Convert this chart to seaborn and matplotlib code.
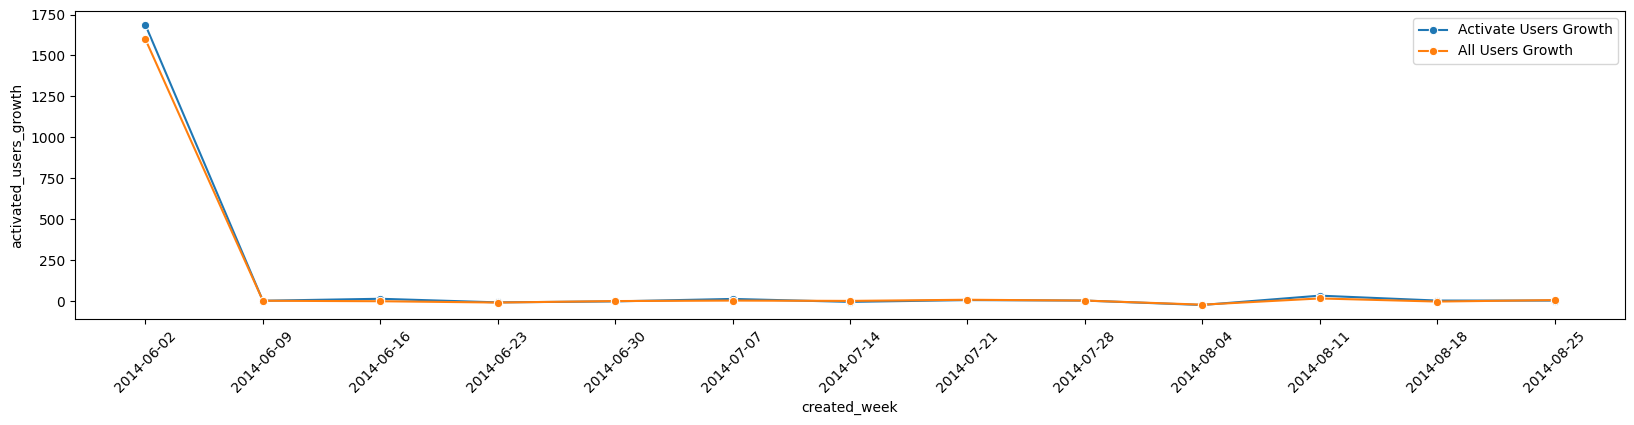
import pandas as pd
import matplotlib.pyplot as plt
import seaborn as sns

weeks = ["2014-06-02", "2014-06-09", "2014-06-16", "2014-06-23", "2014-06-30",
         "2014-07-07", "2014-07-14", "2014-07-21", "2014-07-28", "2014-08-04",
         "2014-08-11", "2014-08-18", "2014-08-25"]
activated_growth = [1686, 4, 16, -6, 0, 15, -3, 8, 5, -22, 35, 5, 5]
all_growth = [1598, 4, 1, -7, 2, 5, 3, 10, 5, -20, 18, -1, 8]

df = pd.DataFrame({"created_week": weeks,
                   "activated_users_growth": activated_growth,
                   "all_users_growth": all_growth})

fig = plt.figure(figsize=(16.34, 4.25), dpi=100)
ax = fig.add_axes([75 / 1634, 1 - 319 / 425, (1625 - 75) / 1634, (319 - 11) / 425])
sns.lineplot(x="created_week", y="activated_users_growth", data=df, marker="o",
             label="Activate Users Growth", ax=ax)
sns.lineplot(x="created_week", y="all_users_growth", data=df, marker="o",
             label="All Users Growth", ax=ax)
plt.xticks(rotation=45)
plt.legend(loc="upper right")
plt.savefig("out.png", dpi=100)
